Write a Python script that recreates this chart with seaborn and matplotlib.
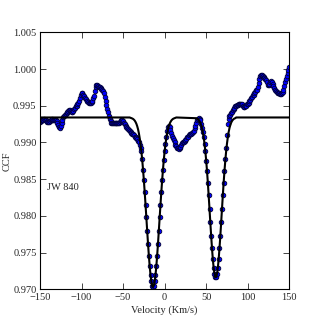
import numpy as np
import pandas as pd
import matplotlib
matplotlib.use("Agg")
import matplotlib.pyplot as plt
import seaborn as sns
from matplotlib.ticker import FormatStrFormatter, MultipleLocator

# CCF of JW 840, one point per km/s from -150 to 150
velocity = list(range(-150, 151))
ccf = [
    0.9928, 0.9929, 0.9930, 0.9931, 0.9931, 0.9932, 0.9931, 0.9930, 0.9929, 0.9928,
    0.9928, 0.9928, 0.9929, 0.9930, 0.9931, 0.9932, 0.9931, 0.9931, 0.9930, 0.9930,
    0.9929, 0.9927, 0.9924, 0.9921, 0.9920, 0.9922, 0.9926, 0.9931, 0.9934, 0.9936,
    0.9937, 0.9939, 0.9940, 0.9942, 0.9943, 0.9944, 0.9944, 0.9943, 0.9942, 0.9942,
    0.9943, 0.9945, 0.9947, 0.9949, 0.9950, 0.9952, 0.9954, 0.9957, 0.9961, 0.9965,
    0.9967, 0.9967, 0.9965, 0.9963, 0.9961, 0.9959, 0.9957, 0.9956, 0.9955, 0.9954,
    0.9954, 0.9954, 0.9955, 0.9957, 0.9960, 0.9963, 0.9970, 0.9976, 0.9978, 0.9978,
    0.9977, 0.9976, 0.9975, 0.9974, 0.9973, 0.9972, 0.9970, 0.9967, 0.9962, 0.9956,
    0.9951, 0.9946, 0.9941, 0.9936, 0.9932, 0.9929, 0.9927, 0.9927, 0.9926, 0.9926,
    0.9926, 0.9926, 0.9926, 0.9926, 0.9926, 0.9927, 0.9928, 0.9929, 0.9930, 0.9930,
    0.9929, 0.9927, 0.9925, 0.9923, 0.9921, 0.9920, 0.9918, 0.9917, 0.9915, 0.9914,
    0.9913, 0.9912, 0.9911, 0.9910, 0.9908, 0.9907, 0.9906, 0.9904, 0.9902, 0.9900,
    0.9897, 0.9893, 0.9888, 0.9878, 0.9863, 0.9849, 0.9832, 0.9815, 0.9798, 0.9780,
    0.9762, 0.9746, 0.9732, 0.9720, 0.9711, 0.9705, 0.9703, 0.9705, 0.9711, 0.9720,
    0.9732, 0.9746, 0.9762, 0.9780, 0.9798, 0.9815, 0.9832, 0.9849, 0.9863, 0.9876,
    0.9888, 0.9898, 0.9907, 0.9915, 0.9921, 0.9923, 0.9921, 0.9917, 0.9913, 0.9909,
    0.9906, 0.9903, 0.9900, 0.9897, 0.9895, 0.9893, 0.9892, 0.9891, 0.9892, 0.9894,
    0.9897, 0.9899, 0.9900, 0.9901, 0.9902, 0.9903, 0.9905, 0.9907, 0.9908, 0.9910,
    0.9911, 0.9912, 0.9912, 0.9913, 0.9914, 0.9916, 0.9919, 0.9923, 0.9927, 0.9930,
    0.9932, 0.9933, 0.9932, 0.9930, 0.9925, 0.9919, 0.9914, 0.9907, 0.9898, 0.9888,
    0.9875, 0.9861, 0.9845, 0.9828, 0.9809, 0.9791, 0.9773, 0.9756, 0.9741, 0.9729,
    0.9721, 0.9717, 0.9717, 0.9721, 0.9729, 0.9741, 0.9756, 0.9773, 0.9791, 0.9809,
    0.9828, 0.9845, 0.9861, 0.9877, 0.9892, 0.9910, 0.9925, 0.9932, 0.9936, 0.9938,
    0.9940, 0.9942, 0.9944, 0.9945, 0.9947, 0.9949, 0.9950, 0.9951, 0.9951, 0.9952,
    0.9953, 0.9953, 0.9953, 0.9952, 0.9950, 0.9948, 0.9948, 0.9949, 0.9950, 0.9952,
    0.9953, 0.9954, 0.9956, 0.9958, 0.9960, 0.9962, 0.9964, 0.9965, 0.9967, 0.9969,
    0.9971, 0.9972, 0.9976, 0.9981, 0.9986, 0.9990, 0.9992, 0.9992, 0.9991, 0.9989,
    0.9988, 0.9987, 0.9985, 0.9982, 0.9978, 0.9978, 0.9980, 0.9982, 0.9983, 0.9982,
    0.9980, 0.9977, 0.9974, 0.9972, 0.9970, 0.9969, 0.9968, 0.9967, 0.9967, 0.9966,
    0.9966, 0.9967, 0.9969, 0.9972, 0.9977, 0.9982, 0.9987, 0.9991, 0.9995, 0.9999,
    1.0003,
]

# two-component fit, flat continuum outside the dips
fit_velocity = [-150] + list(range(-42, 15)) + list(range(38, 87)) + [150]
fit_ccf = (
    [0.9934]
    + [0.9934, 0.99335, 0.99331, 0.99326, 0.9932, 0.9931, 0.99297, 0.99278, 0.99254, 0.99221,
       0.99179, 0.99125, 0.99058, 0.98976, 0.98878, 0.98764, 0.98632, 0.98485, 0.98324, 0.98153,
       0.97975, 0.97796, 0.97622, 0.97459, 0.97315, 0.97195, 0.97105, 0.97049, 0.9703, 0.97049,
       0.97105, 0.97195, 0.97315, 0.97459, 0.97622, 0.97796, 0.97975, 0.98153, 0.98324, 0.98485,
       0.98632, 0.98764, 0.98878, 0.98976, 0.99058, 0.99125, 0.99179, 0.99221, 0.99254, 0.99278,
       0.99297, 0.9931, 0.9932, 0.99326, 0.99331, 0.99335, 0.9934]
    + [0.9933, 0.99326, 0.99318, 0.99306, 0.9929, 0.99267, 0.99236, 0.99194, 0.99139, 0.99069,
       0.98982, 0.98877, 0.98753, 0.9861, 0.9845, 0.98275, 0.98092, 0.97906, 0.97725, 0.97557,
       0.97409, 0.97291, 0.97208, 0.97165, 0.97165, 0.97208, 0.97291, 0.97409, 0.97557, 0.97725,
       0.97906, 0.98092, 0.98275, 0.9845, 0.9861, 0.98753, 0.98877, 0.98982, 0.99069, 0.99139,
       0.99194, 0.99236, 0.99267, 0.9929, 0.99306, 0.99318, 0.99326, 0.9933, 0.9934]
    + [0.9934]
)

star_name = "JW 840"

sns.set_style("ticks")
plt.rcParams["font.family"] = ["Liberation Serif", "DejaVu Serif"]
plt.rcParams["mathtext.fontset"] = "stix"

data_df = pd.DataFrame({"velocity": velocity, "ccf": ccf})
fit_df = pd.DataFrame({"velocity": fit_velocity, "ccf": fit_ccf})

fig = plt.figure(figsize=(3.22, 3.22), dpi=100)
ax = fig.add_axes([0.1242, 0.1016, 0.7742, 0.7981])

sns.scatterplot(data=data_df, x="velocity", y="ccf", ax=ax, color="#0000ff",
                edgecolor="#000033", linewidth=0.6, s=11, zorder=2, legend=False)
sns.lineplot(data=fit_df, x="velocity", y="ccf", ax=ax, color="black",
             linewidth=1.5, zorder=3, legend=False)

ax.text(-141, 0.9838, star_name, fontsize=7.5, va="center", ha="left")

ax.set_xlim(-150, 150)
ax.set_ylim(0.970, 1.005)
ax.xaxis.set_major_locator(MultipleLocator(50))
ax.yaxis.set_major_locator(MultipleLocator(0.005))
ax.yaxis.set_major_formatter(FormatStrFormatter("%.3f"))
ax.tick_params(direction="in", top=True, right=True, length=4, width=0.6,
               labelsize=7.5, pad=2.5)
for sp in ax.spines.values():
    sp.set_linewidth(0.8)
    sp.set_color("black")

ax.set_xlabel("Velocity (Km/s)", fontsize=7.5)
ax.set_ylabel("CCF", fontsize=7.5)
ax.xaxis.set_label_coords(0.5, -0.063)
ax.yaxis.set_label_coords(-0.115, 0.5)

fig.savefig("out.png", dpi=100)
plt.close(fig)
